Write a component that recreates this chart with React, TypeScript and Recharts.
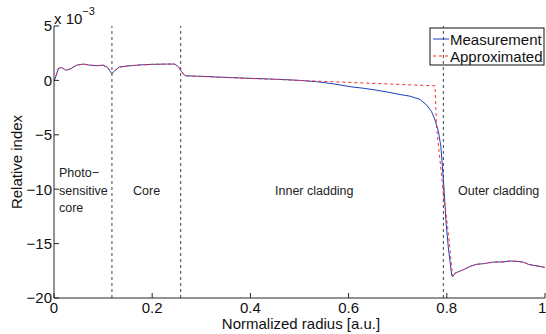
import { LineChart, Line, XAxis, YAxis, ReferenceLine } from 'recharts';

const measRadius = [
  0, 0.004, 0.009, 0.016, 0.024, 0.033, 0.046, 0.06, 0.073, 0.087, 0.1, 0.109, 0.1175, 0.124, 0.133,
  0.148, 0.175, 0.202, 0.229, 0.246, 0.253, 0.26, 0.267, 0.3, 0.331, 0.365, 0.399, 0.433, 0.467, 0.5,
  0.535, 0.57, 0.603, 0.63, 0.657, 0.68, 0.705, 0.725, 0.745, 0.759, 0.769, 0.776, 0.783, 0.788, 0.791,
  0.795, 0.798, 0.803, 0.807, 0.81, 0.812, 0.817, 0.823, 0.834, 0.847, 0.861, 0.874, 0.895, 0.915, 0.929,
  0.943, 0.956, 0.966, 0.976, 0.99, 1.0,
];
const measIndex = [
  -0.08, 0.4, 1.1, 1.18, 0.93, 1.05, 1.4, 1.5, 1.4, 1.35, 1.4, 1.2, 0.62, 0.9, 1.23,
  1.32, 1.42, 1.48, 1.5, 1.5, 1.26, 0.8, 0.42, 0.38, 0.31, 0.25, 0.19, 0.14, 0.08, 0.0,
  -0.12, -0.32, -0.58, -0.72, -0.9, -1.08, -1.3, -1.45, -1.74, -2.26, -2.88, -3.64, -4.7, -6.1, -7.9,
  -10.4, -12.8, -15.3, -16.8, -17.9, -18.04, -17.7, -17.6, -17.4, -17.1, -16.9, -16.85, -16.7, -16.68, -16.6,
  -16.63, -16.7, -16.9, -17.0, -17.1, -17.2,
];

const approxRadius = [
  0, 0.004, 0.009, 0.016, 0.024, 0.033, 0.046, 0.06, 0.073, 0.087, 0.1, 0.109, 0.1175, 0.124, 0.133,
  0.148, 0.175, 0.202, 0.229, 0.246, 0.253, 0.26, 0.267, 0.776, 0.779, 0.786, 0.793, 0.8, 0.806, 0.811,
  0.812, 0.817, 0.823, 0.834, 0.847, 0.861, 0.874, 0.895, 0.915, 0.929, 0.943, 0.956, 0.966, 0.976, 0.99, 1.0,
];
const approxIndex = [
  -0.08, 0.4, 1.1, 1.18, 0.93, 1.05, 1.4, 1.5, 1.4, 1.35, 1.4, 1.2, 0.62, 0.9, 1.23,
  1.32, 1.42, 1.48, 1.5, 1.5, 1.26, 0.8, 0.42, -0.5, -4.25, -7.3, -10.4, -12.8, -15.3, -17.7,
  -18.0, -17.7, -17.6, -17.4, -17.1, -16.9, -16.85, -16.7, -16.68, -16.6, -16.63, -16.7, -16.9, -17.0, -17.1, -17.2,
];

const xTicks = [0, 0.2, 0.4, 0.6, 0.8, 1];
const yTicks = [-20, -15, -10, -5, 0, 5];
const boundaries = [0.118, 0.258, 0.793];

const measurement = measRadius.map((r, i) => ({ r, v: measIndex[i] }));
const approximated = approxRadius.map((r, i) => ({ r, v: approxIndex[i] }));

const FONT = '"Liberation Sans", Arial, Helvetica, sans-serif';
const AXIS = '#262626';
const fmtY = (v: number) => (v < 0 ? '\u2212' + Math.abs(v) : String(v));
const fmtX = (v: number) => String(v);

export default function App() {
  return (
    <div style={{ position: 'absolute', left: 0, top: 0, background: '#fff', fontFamily: FONT }}>
      <LineChart width={546} height={334} margin={{ top: 26, right: 1, bottom: 0, left: 0 }}>
        <XAxis
          xAxisId="b"
          dataKey="r"
          type="number"
          domain={[0, 1]}
          ticks={xTicks}
          tickFormatter={fmtX}
          allowDataOverflow
          height={36}
          tickSize={-5}
          tickMargin={9}
          stroke={AXIS}
          tick={{ fill: '#111', fontSize: 15, fontFamily: FONT }}
        />
        <XAxis
          xAxisId="t"
          orientation="top"
          dataKey="r"
          type="number"
          domain={[0, 1]}
          ticks={xTicks}
          tickFormatter={() => ''}
          allowDataOverflow
          height={0}
          tickSize={-5}
          stroke={AXIS}
        />
        <YAxis
          yAxisId="l"
          type="number"
          domain={[-20, 5]}
          ticks={yTicks}
          tickFormatter={fmtY}
          allowDataOverflow
          width={54}
          tickSize={-5}
          tickMargin={7}
          stroke={AXIS}
          tick={{ fill: '#111', fontSize: 15, fontFamily: FONT }}
        />
        <YAxis
          yAxisId="r"
          orientation="right"
          type="number"
          domain={[-20, 5]}
          ticks={yTicks}
          tickFormatter={() => ''}
          allowDataOverflow
          width={0}
          tickSize={-5}
          stroke={AXIS}
        />
        {boundaries.map((b) => (
          <ReferenceLine key={b} x={b} xAxisId="b" yAxisId="l" stroke="#444" strokeDasharray="3 3" strokeWidth={1} />
        ))}
        <Line
          xAxisId="b"
          yAxisId="l"
          data={measurement}
          dataKey="v"
          name="Measurement"
          type="linear"
          stroke="#1f3fbf"
          strokeWidth={1}
          dot={false}
          isAnimationActive={false}
        />
        <Line
          xAxisId="b"
          yAxisId="l"
          data={approximated}
          dataKey="v"
          name="Approximated"
          type="linear"
          stroke="#ff2a2a"
          strokeWidth={1}
          strokeDasharray="3 3"
          dot={false}
          isAnimationActive={false}
        />

        <text x={54} y={24} fontSize={15} fontFamily={FONT} fill="#111">
          x 10
          <tspan dy={-9} fontSize={11}>{'\u22123'}</tspan>
        </text>

        <g fontFamily={FONT} fontSize={12.5} fill="#222">
          <text x={59} y={177}>{'Photo\u2212'}</text>
          <text x={59} y={195}>sensitive</text>
          <text x={59} y={212}>core</text>
          <text x={133} y={195}>Core</text>
          <text x={275} y={195}>Inner cladding</text>
          <text x={458} y={195}>Outer cladding</text>
        </g>

        <text
          x={16}
          y={162}
          transform="rotate(-90 16 162)"
          textAnchor="middle"
          dominantBaseline="central"
          fontSize={15}
          fontFamily={FONT}
          fill="#111"
        >
          Relative index
        </text>
        <text x={301} y={329} textAnchor="middle" fontSize={15} fontFamily={FONT} fill="#111">
          Normalized radius [a.u.]
        </text>

        <g>
          <rect x={430} y={28} width={114} height={37} fill="#fff" stroke="#111" strokeWidth={1} />
          <line x1={433} y1={39} x2={449} y2={39} stroke="#1f3fbf" strokeWidth={1} />
          <line x1={433} y1={56} x2={449} y2={56} stroke="#ff2a2a" strokeWidth={1} strokeDasharray="3 3" />
          <text x={450} y={44.5} fontSize={15} fontFamily={FONT} fill="#111">Measurement</text>
          <text x={450} y={61.5} fontSize={15} fontFamily={FONT} fill="#111">Approximated</text>
        </g>
      </LineChart>
    </div>
  );
}
